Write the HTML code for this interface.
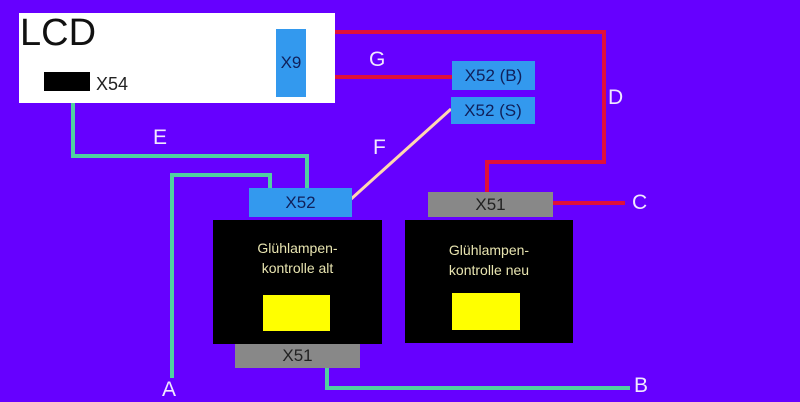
<!DOCTYPE html>
<html><head><style>
body{margin:0;width:800px;height:400px;background:#6600ff;position:relative;overflow:hidden;font-family:"Liberation Sans",sans-serif}
div{position:absolute;box-sizing:border-box}
.c{display:flex;align-items:center;justify-content:center;color:#10205a;font-size:17px}
.t{color:#e8e4b0;font-size:14px;text-align:center;line-height:20px}
.l{color:#f0e8ff;font-size:21px}
</style></head><body>
<svg width="800" height="400" style="position:absolute;left:0;top:0">
<g fill="none" stroke-width="4">
<polyline points="306,32 604,32 604,162 487,162 487,192" stroke="#e0103a"/>
<polyline points="306,77 452,77" stroke="#e0103a"/>
<polyline points="553,203 625,203" stroke="#e0103a"/>
<polyline points="73,92 73,156 307,156 307,190" stroke="#50d0a0"/>
<polyline points="172,378 172,175 270,175 270,190" stroke="#50d0a0"/>
<polyline points="327,368 327,388 630,388" stroke="#50d0a0"/>
<line x1="451" y1="109" x2="350" y2="200" stroke="#ffd8b0" stroke-width="3"/>
</g></svg>
<div style="left:19px;top:13px;width:316px;height:90px;background:#fff"></div>
<div style="left:20px;top:12px;font-size:38px;color:#111">LCD</div>
<div style="left:44px;top:72px;width:46px;height:19px;background:#000"></div>
<div style="left:96px;top:74px;font-size:18px;color:#222">X54</div>
<div class="c" style="left:276px;top:29px;width:30px;height:68px;background:#3399ee">X9</div>
<div class="c" style="left:452px;top:61px;width:83px;height:29px;background:#3399ee">X52 (B)</div>
<div class="c" style="left:451px;top:97px;width:84px;height:27px;background:#3399ee">X52 (S)</div>
<div class="l" style="left:369px;top:48px">G</div>
<div class="l" style="left:608px;top:86px">D</div>
<div class="l" style="left:153px;top:126px">E</div>
<div class="l" style="left:373px;top:136px">F</div>
<div class="l" style="left:632px;top:191px">C</div>
<div class="l" style="left:634px;top:374px">B</div>
<div class="l" style="left:162px;top:378px">A</div>
<div class="c" style="left:249px;top:188px;width:103px;height:29px;background:#3399ee">X52</div>
<div style="left:213px;top:220px;width:169px;height:124px;background:#000"></div>
<div class="t" style="left:213px;top:238px;width:169px">Glühlampen-<br>kontrolle alt</div>
<div style="left:263px;top:295px;width:67px;height:36px;background:#ffff00"></div>
<div class="c" style="left:235px;top:344px;width:125px;height:24px;background:#888;color:#222">X51</div>
<div class="c" style="left:428px;top:192px;width:125px;height:25px;background:#888;color:#222">X51</div>
<div style="left:405px;top:220px;width:168px;height:123px;background:#000"></div>
<div class="t" style="left:405px;top:240px;width:168px">Glühlampen-<br>kontrolle neu</div>
<div style="left:452px;top:293px;width:68px;height:37px;background:#ffff00"></div>
</body></html>
